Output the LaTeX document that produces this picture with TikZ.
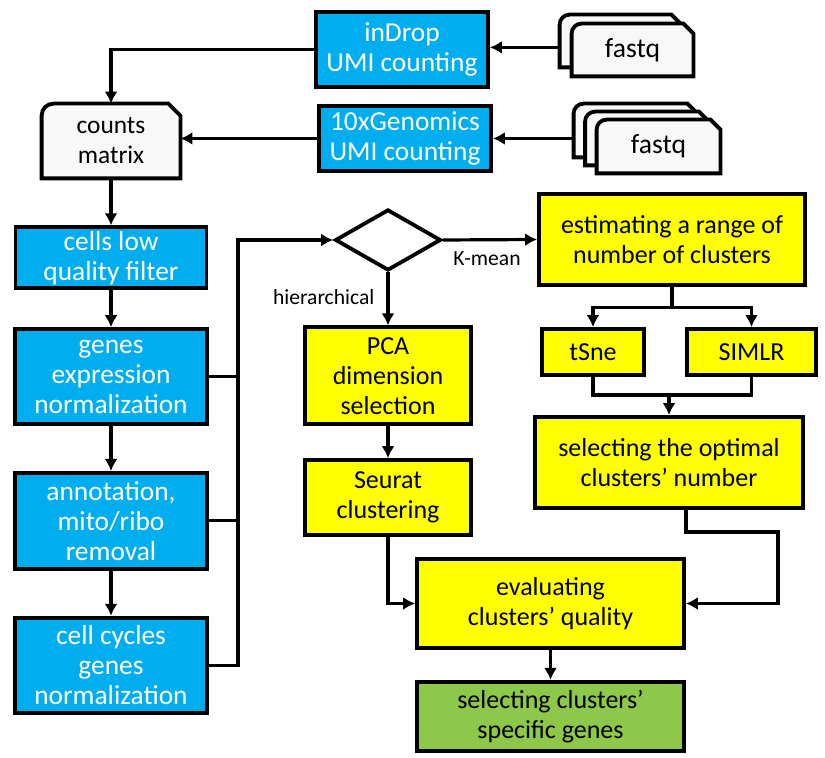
\documentclass[tikz,border=0pt]{standalone}
\usepackage{fontspec}
\setmainfont{Carlito}
\usetikzlibrary{shapes.geometric,arrows.meta,positioning,calc,backgrounds}
\definecolor{stepblue}{HTML}{00AEEF}
\definecolor{stepyellow}{HTML}{FFFF00}
\definecolor{stepgreen}{HTML}{8DC84B}
\definecolor{docfill}{HTML}{F8F8F8}
\tikzset{
  % Preprocessing step: blue fill, white label
  prebox/.style={draw, rectangle, fill=stepblue, text=white, line width=1.9pt,
                 align=center, inner sep=0pt, font=\fontsize{13.7}{15}\selectfont},
  % Clustering step: yellow fill, black label
  clubox/.style={prebox, fill=stepyellow, text=black, font=\fontsize{13}{15}\selectfont},
  % Final result
  outbox/.style={clubox, fill=stepgreen},
  % Data file: outline drawn by \docshape
  docnode/.style={rectangle, inner sep=0pt, align=center, font=\fontsize{13.8}{15}\selectfont},
  % Decision
  choice/.style={draw, diamond, fill=white, line width=1.9pt, inner sep=0pt},
  % Arrows
  flowline/.style={line width=1.6pt},
  flowarr/.style={flowline, -{Latex[length=6pt,width=6.5pt]}},
  edgelbl/.style={font=\fontsize{10.8}{12}\selectfont, inner sep=2pt}
}
% outline of a data node: round top-left corner, cut top-right corner
\newcommand{\docshape}[2][6pt]{%
  \draw[line width=1.9pt, fill=docfill]
    (#2.south west) -- ([yshift=-#1]#2.north west)
    arc[start angle=180, end angle=90, radius=#1]
    -- ([xshift=-#1]#2.north east) -- ([yshift=-#1]#2.north east)
    -- (#2.south east) -- cycle;}

\begin{document}
\begin{tikzpicture}[x=0.5pt, y=-0.5pt, node distance=8mm]
\useasboundingbox (0,0) rectangle (825,758);

% ============== INPUT: fastq files + UMI counting ==============
\node[prebox, minimum width=86pt, minimum height=37.5pt] (indrop) at (402,49.5)
  {inDrop\\UMI counting};
\node[prebox, minimum width=86pt, minimum height=32.5pt] (tenx) at (405,138.5)
  {10xGenomics\\UMI counting};

\node[docnode, minimum width=60.5pt, minimum height=26pt] (fq1b) at (620.5,41) {};
\node[docnode, minimum width=60.5pt, minimum height=26pt] (fq1) at (632.5,50) {fastq};
\node[docnode, minimum width=61.5pt, minimum height=26.5pt] (fq2b) at (635.5,130.5) {};
\node[docnode, minimum width=61.5pt, minimum height=26.5pt] (fq2m) at (647,138.5) {};
\node[docnode, minimum width=61.5pt, minimum height=26.5pt] (fq2) at (658.5,146.5) {fastq};

\node[docnode, minimum width=69pt, minimum height=37pt, font=\fontsize{12.7}{15}\selectfont]
  (counts) at (111,141) {counts\\matrix};

\begin{scope}[on background layer]
  \docshape[5pt]{fq1b} \docshape[5pt]{fq1}
  \docshape[5pt]{fq2b} \docshape[5pt]{fq2m} \docshape[5pt]{fq2}
  \docshape{counts}
\end{scope}

\draw[flowarr] (fq1b.west |- fq1b.south) ++(0,-20) coordinate (fq1out) -- (fq1out -| indrop.east);
\draw[flowarr] (fq2b.west |- tenx.east) -- (tenx.east);
\draw[flowarr] (indrop.west) -| (counts.north);
\draw[flowarr] (tenx.west) -- (tenx.west -| counts.east);

% ============== LEFT COLUMN: preprocessing ==============
\node[prebox, below=23.5pt of counts, minimum width=95.5pt, minimum height=30.5pt] (cells)
  {cells low\\quality filter};
\node[prebox, below=18.5pt of cells, minimum width=96pt, minimum height=47.5pt] (genes)
  {genes\\expression\\normalization};
\node[prebox, below=22.5pt of genes, minimum width=96pt, minimum height=48pt] (annot)
  {annotation,\\mito/ribo\\removal};
\node[prebox, below=22.5pt of annot, minimum width=96pt, minimum height=47.5pt] (cycles)
  {cell cycles\\genes\\normalization};

\draw[flowarr] (counts.south) -- (cells.north);
\draw[flowarr] (cells.south) -- (genes.north);
\draw[flowarr] (genes.south) -- (annot.north);
\draw[flowarr] (annot.south) -- (cycles.north);

% ============== DECISION ==============
\node[choice, minimum width=53pt, minimum height=30.5pt] (dec) at (388,240) {};
\coordinate (bus) at (238,240);

\draw[flowarr] (cycles.east) -| (bus) -- (dec.west);
\draw[flowline] (genes.east) -- (genes.east -| bus);
\draw[flowline] (annot.east) -- (annot.east -| bus);

% ============== HIERARCHICAL BRANCH ==============
\node[clubox, below=26.5pt of dec, minimum width=83pt, minimum height=48.5pt] (pca)
  {PCA\\dimension\\selection};
\node[clubox, below=16pt of pca, minimum width=83pt, minimum height=37.5pt] (seurat)
  {Seurat\\clustering};

\draw[flowarr] (dec.south) -- node[edgelbl, left, xshift=-4pt, yshift=1pt] {hierarchical} (pca.north);
\draw[flowarr] (pca.south) -- (seurat.north);

% ============== K-MEAN BRANCH ==============
\node[clubox, minimum width=133pt, minimum height=45.5pt] (est) at (672,239.5)
  {estimating a range of\\number of clusters};
\node[clubox, minimum width=51pt, minimum height=23pt] (tsne) at (593,352) {tSne};
\node[clubox, minimum width=64.5pt, minimum height=23pt] (simlr) at (751.5,352) {SIMLR};
\node[clubox, minimum width=134pt, minimum height=45.5pt] (sel) at (669,462.5)
  {selecting the optimal\\clusters’ number};

\draw[flowarr] (dec.east) -- node[edgelbl, below, xshift=-1.5pt, yshift=-3pt] {K-mean} (est.west);
\draw[flowarr] (est.south) -- ++(0,21) -| (tsne.north);
\draw[flowarr] (est.south) -- ++(0,21) -| (simlr.north);
\coordinate (join) at (669,395);
\draw[flowline] (tsne.south) |- (join) -| (simlr.south);
\draw[flowarr] (join) -- (sel.north);

% ============== EVALUATION ==============
\node[clubox, minimum width=133.5pt, minimum height=44.5pt] (eval) at (550.5,603.5)
  {evaluating\\clusters’ quality};
\node[outbox, below=15pt of eval, minimum width=133.5pt, minimum height=34.5pt] (genesout)
  {selecting clusters’\\specific genes};

\coordinate (selout) at (778,532);
\draw[flowarr] (sel.south -| eval.east) |- (selout) |- (eval.east);
\draw[flowarr] (seurat.south) |- (eval.west);
\draw[flowarr] (eval.south) -- (genesout.north);

\end{tikzpicture}
\end{document}
